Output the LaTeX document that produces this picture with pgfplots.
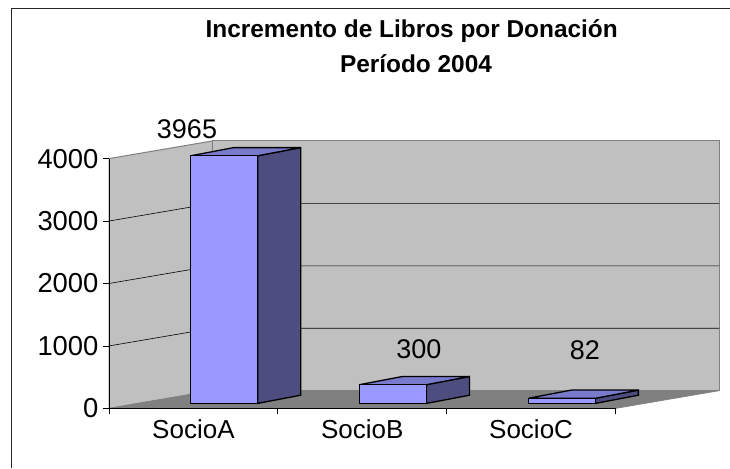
\documentclass[border=0pt]{standalone}
\usepackage{fontspec}
\setmainfont{Liberation Sans}
\usepackage{pgfplots}
\pgfplotsset{compat=1.18}
\definecolor{front}{HTML}{9999FF}
\definecolor{side}{HTML}{4D4D80}
\definecolor{topf}{HTML}{7A7ACC}
\definecolor{wall}{HTML}{C0C0C0}
\definecolor{floorc}{HTML}{808080}
\begin{document}
\begin{tikzpicture}[x=1pt,y=1pt]
\useasboundingbox (0,0) rectangle (730,468);
\draw[black!85,line width=1pt] (11,0) -- (11,459.5) -- (730,459.5);
\node[font=\bfseries\fontsize{24.4}{26}\selectfont] at (411.7,437) {Incremento de Libros por Donación};
\node[font=\bfseries\fontsize{24.4}{26}\selectfont] at (416,404) {Período 2004};
\begin{axis}[at={(109pt,59.6pt)},anchor=south west,scale only axis,width=506.5pt,height=249.8pt,
 xmin=0,xmax=3,ymin=0,ymax=4000,clip=false,axis on top,
 axis x line*=bottom,axis y line*=left,axis line style={-,line width=0.7pt,black},
 xtick={0,1,2,3},xticklabels={},ytick={0,1000,2000,3000,4000},
 extra x ticks={0.5,1.5,2.5},extra x tick labels={SocioA,SocioB,SocioC},
 extra x tick style={major tick length=0pt,xticklabel style={yshift=-8pt,font=\fontsize{26}{28}\selectfont}},
 tick style={black,line width=0.7pt},major tick length=6pt,
 tick align=outside,
 yticklabel style={font=\fontsize{27.4}{28}\selectfont,xshift=-1pt},
 /pgf/number format/assume math mode=true,
 /pgf/number format/1000 sep={},
 bar3d/.style={xshift=30.8pt,yshift=5pt,draw=black,line width=1.3pt}]
% paredes y piso
\addplot[fill=wall,draw=floorc,line width=1pt] coordinates {(0,0)(0,4000)(0.613,4283)(0.613,283)} -- cycle;
\addplot[fill=wall,draw=floorc,line width=1pt] coordinates {(0.613,283)(0.613,4283)(3.613,4283)(3.613,283)} -- cycle;
\addplot[fill=floorc,draw=floorc,line width=0.7pt] coordinates {(0,0)(3,0)(3.613,283)(0.613,283)} -- cycle;
% rejilla
\addplot[black,line width=0.6pt] coordinates {(0,1000)(0.613,1283)(3.613,1283)};
\addplot[black,line width=0.6pt] coordinates {(0,2000)(0.613,2283)(3.613,2283)};
\addplot[black,line width=0.6pt] coordinates {(0,3000)(0.613,3283)(3.613,3283)};
% caras laterales
\addplot[bar3d,fill=side] coordinates {(0.6984,0)(0.9531,131)(0.9531,4096)(0.6984,3965)} -- cycle;
\addplot[bar3d,fill=side] coordinates {(1.6984,0)(1.9531,131)(1.9531,431)(1.6984,300)} -- cycle;
\addplot[bar3d,fill=side] coordinates {(2.6984,0)(2.9531,131)(2.9531,213)(2.6984,82)} -- cycle;
% caras superiores
\addplot[bar3d,fill=topf] coordinates {(0.3016,3965)(0.6984,3965)(0.9531,4096)(0.5563,4096)} -- cycle;
\addplot[bar3d,fill=topf] coordinates {(1.3016,300)(1.6984,300)(1.9531,431)(1.5563,431)} -- cycle;
\addplot[bar3d,fill=topf] coordinates {(2.3016,82)(2.6984,82)(2.9531,213)(2.5563,213)} -- cycle;
% caras frontales
\addplot[ybar,bar width=67pt,bar3d,fill=front] coordinates {(0.5,3965)(1.5,300)(2.5,82)};
% etiquetas
\addplot[draw=none,mark=none,point meta=explicit symbolic,nodes near coords,
 nodes near coords align={center},every node near coord/.append style={font=\fontsize{27}{28}\selectfont,black}]
 coordinates {(0.462,4472)[3965] (1.836,952)[300] (2.819,936)[82]};
\end{axis}
\end{tikzpicture}
\end{document}
